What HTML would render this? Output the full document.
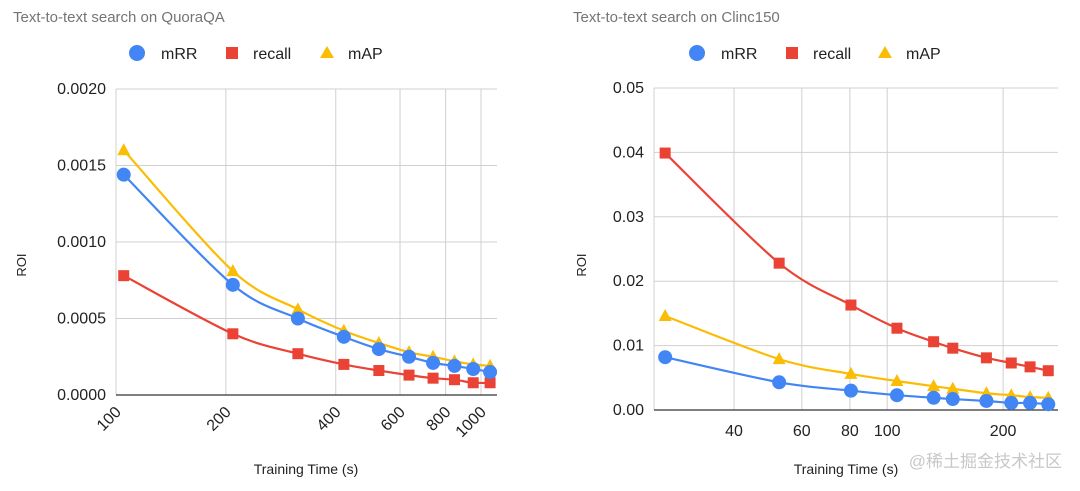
<!DOCTYPE html>
<html><head><meta charset="utf-8"><style>
body{margin:0;background:#fff;width:1080px;height:486px;overflow:hidden;font-family:"Liberation Sans",sans-serif}
</style></head><body>
<svg id="svg" width="1080" height="486" xmlns="http://www.w3.org/2000/svg" font-family="Liberation Sans, sans-serif"></svg>
<script>
const leftX=[105,209,315,421,525,635,739,846,952,1059];
const leftMRR=[0.00144,0.00072,0.00050,0.00038,0.00030,0.00025,0.00021,0.00019,0.00017,0.00015];
const leftRecall=[0.00078,0.00040,0.00027,0.00020,0.00016,0.00013,0.00011,0.00010,0.00008,0.00008];
const leftMAP=[0.00160,0.00081,0.00056,0.00042,0.00034,0.00028,0.00025,0.00022,0.00020,0.00019];
const leftYTicks=[0,0.0005,0.0010,0.0015,0.0020];
const leftYLabels=["0.0000","0.0005","0.0010","0.0015","0.0020"];
const leftXTicks=[100,200,400,600,800,1000];
const rightX=[26.5,52.4,80.5,106,132,148,181,210,235,262];
const rightMRR=[0.0082,0.0043,0.0030,0.0023,0.0019,0.0017,0.0014,0.0011,0.0011,0.0009];
const rightRecall=[0.0399,0.0228,0.0163,0.0127,0.0106,0.0096,0.0081,0.0073,0.0067,0.0061];
const rightMAP=[0.0146,0.0079,0.0056,0.0045,0.0037,0.0033,0.0026,0.0023,0.0020,0.0019];
const rightYTicks=[0,0.01,0.02,0.03,0.04,0.05];
const rightYLabels=["0.00","0.01","0.02","0.03","0.04","0.05"];
const rightXTicks=[40,60,80,100,200];

const NS="http://www.w3.org/2000/svg";
const svg=document.getElementById('svg');
function mk(tag,attrs,parent){const e=document.createElementNS(NS,tag);for(const k in attrs)e.setAttribute(k,attrs[k]);(parent||svg).appendChild(e);return e;}
function txt(s,attrs){const t=mk('text',attrs);t.textContent=s;return t;}
const BLUE='#4285f4',RED='#ea4335',YEL='#fbbc04';

function smooth(pts){let d='M'+pts[0][0]+','+pts[0][1];for(let i=0;i<pts.length-1;i++){const p0=pts[Math.max(0,i-1)],p1=pts[i],p2=pts[i+1],p3=pts[Math.min(pts.length-1,i+2)];const t=0.16;const c1=[p1[0]+(p2[0]-p0[0])*t,p1[1]+(p2[1]-p0[1])*t];const c2=[p2[0]-(p3[0]-p1[0])*t,p2[1]-(p3[1]-p1[1])*t];d+=' C'+c1[0]+','+c1[1]+' '+c2[0]+','+c2[1]+' '+p2[0]+','+p2[1];}return d;}

function chart(cfg){
  const g=mk('g',{});
  
  
  const xs=v=>cfg.xref+Math.log10(v/cfg.xv0)*cfg.pxDec;
  const ys=v=>cfg.yb-(v/cfg.ymax)*(cfg.yb-cfg.yt);
  const t=txt(cfg.title,{x:cfg.tx,y:22,'font-size':15,fill:'#757575'});
  
  const L=cfg.leg;
  const lg=mk('g',{});
  mk('circle',{cx:L[0],cy:53,r:8,fill:BLUE},lg);
  txt('mRR',{x:L[0]+24,y:59,'font-size':16,fill:'#222'});
  mk('rect',{x:L[1]-6,y:47,width:12,height:12,fill:RED},lg);
  txt('recall',{x:L[1]+21,y:59,'font-size':16,fill:'#222'});
  mk('polygon',{points:`${L[2]-7},58 ${L[2]+7},58 ${L[2]},46`,fill:YEL},lg);
  txt('mAP',{x:L[2]+21,y:59,'font-size':16,fill:'#222'});
  cfg.yTicks.forEach((v,i)=>{
    const y=ys(v);
    if(v>0) mk('line',{x1:cfg.x0,x2:cfg.x1,y1:y,y2:y,stroke:'#d0d0d0','stroke-width':1});
    const l=txt(cfg.yLabels[i],{x:cfg.x0-10,y:y+5,'font-size':16,'text-anchor':'end',fill:'#222'});
    
  });
  cfg.xTicks.forEach(v=>{
    const x=xs(v);
    if(x>cfg.x0+2) mk('line',{x1:x,x2:x,y1:cfg.yt,y2:cfg.yb,stroke:'#d0d0d0','stroke-width':1});
    let l;
    if(cfg.rot) l=txt(String(v),{x:x+6,y:cfg.yb+18,'font-size':16,'text-anchor':'end',fill:'#222',transform:`rotate(-45 ${x+6} ${cfg.yb+18})`});
    else l=txt(String(v),{x:x,y:cfg.yb+26,'font-size':16,'text-anchor':'middle',fill:'#222'});
    
  });
  mk('line',{x1:cfg.x0,x2:cfg.x0,y1:cfg.yt,y2:cfg.yb,stroke:'#d0d0d0','stroke-width':1});
  mk('line',{x1:cfg.x0,x2:cfg.x1,y1:cfg.yb,y2:cfg.yb,stroke:'#333','stroke-width':1.3});
  const ya=txt('ROI',{x:cfg.ytx,y:265,'font-size':13,'text-anchor':'middle',fill:'#222',transform:`rotate(-90 ${cfg.ytx} 265)`});
  
  const xa=txt('Training Time (s)',{x:cfg.xtx,y:474,'font-size':14,'text-anchor':'middle',fill:'#222'});
  
  const series=[[cfg.recall,RED,'sq','recall'],[cfg.map,YEL,'tri','map'],[cfg.mrr,BLUE,'c','mrr']];
  series.forEach(([vals,col,sh,nm])=>{
    const pts=cfg.xv.map((xv,i)=>[xs(xv),ys(vals[i])]);
    const p=mk('path',{d:smooth(pts),fill:'none',stroke:col,'stroke-width':2.2});
    
    pts.forEach(([x,y])=>{
      let m;
      if(sh==='c') m=mk('circle',{cx:x,cy:y,r:7,fill:col});
      else if(sh==='sq') m=mk('rect',{x:x-5.5,y:y-5.5,width:11,height:11,fill:col});
      else m=mk('polygon',{points:`${x-6.5},${y+5} ${x+6.5},${y+5} ${x},${y-7}`,fill:col});
      
      
    });
  });
}
chart({name:'quoraqa-chart',title:'Text-to-text search on QuoraQA',tx:13,leg:[137,232,327],x0:116,x1:497,xref:116,xv0:100,pxDec:365,yt:89,yb:395,ymax:0.002,
  yTicks:leftYTicks,yLabels:leftYLabels,xTicks:leftXTicks,rot:true,ytx:26,xtx:306,xv:leftX,mrr:leftMRR,recall:leftRecall,map:leftMAP});
chart({name:'clinc150-chart',title:'Text-to-text search on Clinc150',tx:573,leg:[697,792,885],x0:654,x1:1058,xref:734,xv0:40,pxDec:385,yt:88,yb:410,ymax:0.05,
  yTicks:rightYTicks,yLabels:rightYLabels,xTicks:rightXTicks,rot:false,ytx:586,xtx:846,xv:rightX,mrr:rightMRR,recall:rightRecall,map:rightMAP});
const w=txt('@稀土掘金技术社区',{x:1062,y:467,'font-size':17,'text-anchor':'end',fill:'#c8c8c8','font-family':'Liberation Sans, Noto Sans CJK SC, sans-serif'});


</script>
</body></html>
